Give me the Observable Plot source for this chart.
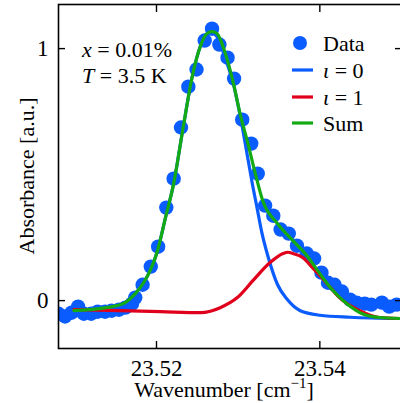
<!DOCTYPE html>
<html><head><meta charset="utf-8">
<script src="https://cdn.jsdelivr.net/npm/d3@7"></script>
<script src="https://cdn.jsdelivr.net/npm/@observablehq/plot@0.6"></script>
<style>
html,body{margin:0;padding:0;background:#fff;overflow:hidden;}
#chart{width:400px;height:403px;overflow:hidden;position:relative;}
</style></head><body><div id="chart"></div>
<script>
// Measured data (cm^-1, a.u.)
const dataWavenumber = [23.5080, 23.5088, 23.5096, 23.5104, 23.5111, 23.5120, 23.5128, 23.5137, 23.5145, 23.5154, 23.5162, 23.5170, 23.5174, 23.5183, 23.5193, 23.5202, 23.5212, 23.5221, 23.5230, 23.5239, 23.5249, 23.5259, 23.5268, 23.5277, 23.5287, 23.5295, 23.5305, 23.5316, 23.5324, 23.5333, 23.5343, 23.5352, 23.5362, 23.5372, 23.5384, 23.5393, 23.5402, 23.5410, 23.5418, 23.5427, 23.5437, 23.5445, 23.5455, 23.5463, 23.5476, 23.5485, 23.5494];
const dataAbsorbance = [-0.052, -0.063, -0.048, -0.024, -0.052, -0.052, -0.044, -0.044, -0.040, -0.036, -0.028, -0.012, 0.012, 0.063, 0.135, 0.214, 0.369, 0.484, 0.687, 0.849, 0.917, 1.032, 1.079, 1.016, 0.964, 0.881, 0.718, 0.623, 0.504, 0.377, 0.337, 0.282, 0.266, 0.218, 0.187, 0.167, 0.111, 0.071, 0.063, 0.036, 0.004, -0.008, -0.012, -0.016, -0.008, -0.024, -0.016];

// Fit component iota = 0
const fit0Wavenumber = [23.5099, 23.5117, 23.5138, 23.5159, 23.5174, 23.5184, 23.5193, 23.5201, 23.5211, 23.5221, 23.5233, 23.5244, 23.5254, 23.5262, 23.5267, 23.5274, 23.5284, 23.5294, 23.5305, 23.5311, 23.5317, 23.5323, 23.5329, 23.5337, 23.5348, 23.5360, 23.5376, 23.5400, 23.5437, 23.5498];
const fit0Absorbance = [-0.040, -0.036, -0.028, -0.012, 0.028, 0.070, 0.125, 0.195, 0.329, 0.464, 0.694, 0.893, 1.012, 1.060, 1.063, 1.048, 0.964, 0.861, 0.690, 0.580, 0.470, 0.370, 0.270, 0.170, 0.065, 0.005, -0.040, -0.058, -0.066, -0.071];

// Fit component iota = 1
const fit1Wavenumber = [23.5099, 23.5156, 23.5205, 23.5254, 23.5266, 23.5278, 23.5299, 23.5318, 23.5339, 23.5355, 23.5361, 23.5367, 23.5379, 23.5391, 23.5409, 23.5424, 23.5449, 23.5473, 23.5498];
const fit1Absorbance = [-0.036, -0.040, -0.044, -0.048, -0.042, -0.028, 0.012, 0.079, 0.151, 0.187, 0.192, 0.187, 0.171, 0.131, 0.067, 0.012, -0.040, -0.067, -0.071];

// Sum of fit
const sumWavenumber = [23.5099, 23.5117, 23.5138, 23.5159, 23.5174, 23.5184, 23.5193, 23.5201, 23.5211, 23.5221, 23.5233, 23.5244, 23.5254, 23.5262, 23.5268, 23.5274, 23.5284, 23.5294, 23.5302, 23.5312, 23.5321, 23.5330, 23.5348, 23.5367, 23.5384, 23.5400, 23.5416, 23.5433, 23.5452, 23.5473, 23.5498];
const sumAbsorbance = [-0.040, -0.036, -0.028, -0.012, 0.028, 0.070, 0.125, 0.195, 0.329, 0.464, 0.694, 0.893, 1.012, 1.060, 1.067, 1.060, 0.984, 0.865, 0.746, 0.623, 0.504, 0.397, 0.306, 0.238, 0.179, 0.107, 0.040, -0.012, -0.052, -0.067, -0.071];

const xTicks = [23.52, 23.54];
const yTicks = [0, 1];
const legendLabels = ["Data", "ι = 0", "ι = 1", "Sum"];
const seriesColors = ["#0a5cff", "#0a5cff", "#e0001b", "#14aa14"];

const BLUE = seriesColors[0], RED = seriesColors[2], GREEN = seriesColors[3];
const zip = (xs, ys) => xs.map((x, i) => ({x, y: ys[i]}));
const points = zip(dataWavenumber, dataAbsorbance);
const fit0 = zip(fit0Wavenumber, fit0Absorbance);
const fit1 = zip(fit1Wavenumber, fit1Absorbance);
const fitSum = zip(sumWavenumber, sumAbsorbance);

const FONT = "Liberation Serif";
const chart = Plot.plot({
  width: 403, height: 403,
  marginTop: 4, marginBottom: 55, marginLeft: 58, marginRight: 2,
  style: {fontFamily: FONT, fontSize: "22px", color: "black", background: "white", maxWidth: "none"},
  x: {domain: [23.508, 23.55]},
  y: {domain: [-0.19, 1.175]},
  marks: [
    Plot.dot(points, {x: "x", y: "y", r: 7.2, fill: BLUE, stroke: "none", clip: true}),
    Plot.line(fit0, {x: "x", y: "y", stroke: BLUE, strokeWidth: 3.2, curve: "monotone-x", clip: true}),
    Plot.line(fit1, {x: "x", y: "y", stroke: RED, strokeWidth: 3.2, curve: "monotone-x", clip: true}),
    Plot.line(fitSum, {x: "x", y: "y", stroke: GREEN, strokeWidth: 3.2, curve: "monotone-x", clip: true}),
    Plot.frame({stroke: "black", strokeWidth: 1.6}),
    Plot.axisX({anchor: "bottom", ticks: xTicks, tickSize: -7, tickPadding: 18, fontSize: 23, tickFormat: d => d.toFixed(2), label: null, strokeWidth: 1.4}),
    Plot.axisX({anchor: "top", ticks: xTicks, tickSize: -7, tickFormat: () => "", label: null, strokeWidth: 1.4}),
    Plot.axisY({anchor: "left", ticks: yTicks, tickSize: -7, tickPadding: 17, fontSize: 23, tickFormat: d => String(d), label: null, strokeWidth: 1.4}),
    Plot.axisY({anchor: "right", ticks: yTicks, tickSize: -7, tickFormat: () => "", label: null, strokeWidth: 1.4})
  ]
});

const svg = d3.select(chart);
const g = svg.append("g").attr("font-family", FONT).attr("font-size", 22).attr("fill", "black").attr("text-anchor", "start");

// Axis titles
g.append("text").attr("transform", "translate(34,176) rotate(-90)").attr("text-anchor", "middle").text("Absorbance [a.u.]");
const xl = g.append("text").attr("x", 224).attr("y", 397).attr("text-anchor", "middle");
xl.append("tspan").text("Wavenumber [cm");
xl.append("tspan").attr("font-size", 15).attr("dy", -9).text("−1");
xl.append("tspan").attr("dy", 9).text("]");

// Annotation
const a1 = g.append("text").attr("x", 82).attr("y", 57);
a1.append("tspan").attr("font-style", "italic").text("x");
a1.append("tspan").text(" = 0.01%");
const a2 = g.append("text").attr("x", 82).attr("y", 83);
a2.append("tspan").attr("font-style", "italic").text("T");
a2.append("tspan").text(" = 3.5 K");

// Legend
const legY = [43, 70, 97, 123];
g.append("circle").attr("cx", 300).attr("cy", legY[0]).attr("r", 7).attr("fill", seriesColors[0]);
g.append("text").attr("x", 323).attr("y", legY[0] + 8).text(legendLabels[0]);
for (let i = 1; i < 4; i++) {
  g.append("line").attr("x1", 292).attr("x2", 313).attr("y1", legY[i]).attr("y2", legY[i])
    .attr("stroke", seriesColors[i]).attr("stroke-width", 3.2);
  const t = g.append("text").attr("x", 323).attr("y", legY[i] + 8);
  const lab = legendLabels[i];
  if (lab.startsWith("ι")) {
    t.append("tspan").attr("font-style", "italic").text("ι");
    t.append("tspan").text(lab.slice(1));
  } else {
    t.text(lab);
  }
}

document.getElementById("chart").appendChild(chart);
</script>
</body></html>
